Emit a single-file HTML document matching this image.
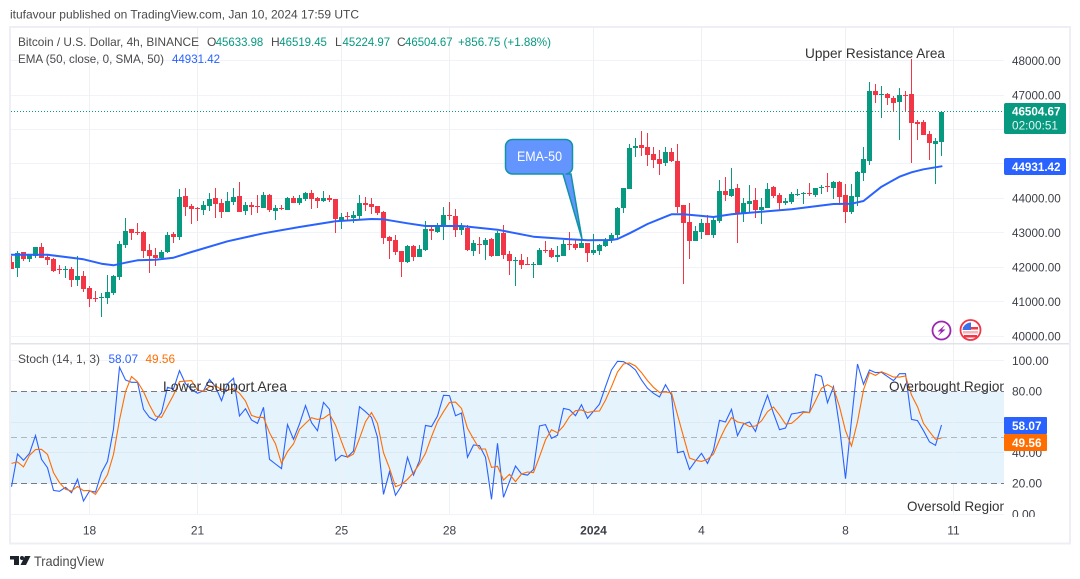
<!DOCTYPE html>
<html lang="en">
<head>
<meta charset="utf-8">
<title>BTCUSD 4h chart</title>
<style>
html,body{margin:0;padding:0;background:#fff;}
svg{display:block;font-family:"Liberation Sans",sans-serif;}
</style>
</head>
<body>
<svg id="chart" xmlns="http://www.w3.org/2000/svg" width="1080" height="579" viewBox="0 0 1080 579">
  <defs>
    <clipPath id="main-clip"><rect x="11" y="28" width="993" height="315"/></clipPath>
    <clipPath id="stoch-clip"><rect x="11" y="345" width="993" height="172"/></clipPath>
    <clipPath id="axis-clip"><rect x="1004" y="345" width="66" height="172"/></clipPath>
  </defs>
  <rect x="0" y="0" width="1080" height="579" fill="#ffffff"/>
  <text x="10" y="18.5" font-size="12" fill="#4a4a4a" textLength="349" lengthAdjust="spacingAndGlyphs">itufavour published on TradingView.com, Jan 10, 2024 17:59 UTC</text>
  <rect x="10" y="27" width="1060" height="516.5" fill="#ffffff" stroke="#eeeff4" stroke-width="2"/>
  <rect x="11" y="391.3" width="993" height="92" fill="#e5f3fd"/>
  <g id="grid"></g>
  <rect x="11" y="343" width="1058" height="1.5" fill="#e0e3eb"/>
  <g id="stoch-levels" clip-path="url(#stoch-clip)">
    <line x1="11" x2="1004" y1="391.5" y2="391.5" stroke="#787b86" stroke-dasharray="6 4"/>
    <line x1="11" x2="1004" y1="437.5" y2="437.5" stroke="#b2b5be" stroke-dasharray="6 4"/>
    <line x1="11" x2="1004" y1="483.5" y2="483.5" stroke="#787b86" stroke-dasharray="6 4"/>
  </g>
  <g id="candles" clip-path="url(#main-clip)"></g>
  <polyline id="ema-line" fill="none" stroke="#2962ff" stroke-width="2" stroke-linejoin="round" stroke-linecap="round" clip-path="url(#main-clip)"/>
  <line id="last-price-line" x1="11" x2="1004" y1="111.5" y2="111.5" stroke="#089981" stroke-dasharray="1 2"/>
  <polyline id="stoch-k-line" fill="none" stroke="#2962ff" stroke-width="1.1" clip-path="url(#stoch-clip)"/>
  <polyline id="stoch-d-line" fill="none" stroke="#ff6d00" stroke-width="1.1" clip-path="url(#stoch-clip)"/>

  <g>
    <path d="M512.5 139.5H565.5a7 7 0 0 1 7 7V167a7 7 0 0 1-7 7H571L582 239L563 174H512.5a7 7 0 0 1-7-7V146.5a7 7 0 0 1 7-7Z" fill="#6495ff" stroke="#0f93a8" stroke-width="1.5"/>
    <text x="517" y="161" font-size="14" fill="#ffffff" textLength="45" lengthAdjust="spacingAndGlyphs">EMA-50</text>
  </g>

  <text x="805" y="58" font-size="14" fill="#333333" textLength="140" lengthAdjust="spacingAndGlyphs">Upper Resistance Area</text>
  <g clip-path="url(#stoch-clip)">
    <text x="163" y="391" font-size="14" fill="#333333" textLength="124" lengthAdjust="spacingAndGlyphs">Lower Support Area</text>
    <text x="889" y="391" font-size="14" fill="#333333" textLength="118" lengthAdjust="spacingAndGlyphs">Overbought Region</text>
    <text x="907" y="511" font-size="14" fill="#333333" textLength="100" lengthAdjust="spacingAndGlyphs">Oversold Region</text>
  </g>

  <g font-size="12">
    <text x="18" y="46" fill="#4a4a4a" textLength="181" lengthAdjust="spacingAndGlyphs">Bitcoin / U.S. Dollar, 4h, BINANCE</text>
    <text x="207" y="46" fill="#4a4a4a">O</text>
    <text x="215.7" y="46" fill="#089981" textLength="47.6" lengthAdjust="spacingAndGlyphs">45633.98</text>
    <text x="271" y="46" fill="#4a4a4a">H</text>
    <text x="279.3" y="46" fill="#089981" textLength="47.6" lengthAdjust="spacingAndGlyphs">46519.45</text>
    <text x="335" y="46" fill="#4a4a4a">L</text>
    <text x="342.5" y="46" fill="#089981" textLength="47.6" lengthAdjust="spacingAndGlyphs">45224.97</text>
    <text x="397" y="46" fill="#4a4a4a">C</text>
    <text x="405" y="46" fill="#089981" textLength="47.6" lengthAdjust="spacingAndGlyphs">46504.67</text>
    <text x="458" y="46" fill="#089981" textLength="93" lengthAdjust="spacingAndGlyphs">+856.75 (+1.88%)</text>
    <text x="18" y="63" fill="#4a4a4a" textLength="146" lengthAdjust="spacingAndGlyphs">EMA (50, close, 0, SMA, 50)</text>
    <text x="172" y="63" fill="#2962ff" textLength="48" lengthAdjust="spacingAndGlyphs">44931.42</text>
    <text x="18" y="363" fill="#4a4a4a" textLength="82" lengthAdjust="spacingAndGlyphs">Stoch (14, 1, 3)</text>
    <text x="108.5" y="363" fill="#2962ff" textLength="29.5" lengthAdjust="spacingAndGlyphs">58.07</text>
    <text x="145.5" y="363" fill="#ff6d00" textLength="29.5" lengthAdjust="spacingAndGlyphs">49.56</text>
  </g>

  <g id="price-axis"></g>
  <g id="stoch-axis" clip-path="url(#axis-clip)"></g>
  <g id="time-axis"></g>

  <g>
    <rect x="1004" y="103" width="62" height="31" rx="2" fill="#089981"/>
    <text x="1012" y="115.5" font-size="12" font-weight="bold" fill="#ffffff" textLength="48.5" lengthAdjust="spacingAndGlyphs">46504.67</text>
    <text x="1012" y="129.5" font-size="12" fill="#e4f5f0" textLength="46" lengthAdjust="spacingAndGlyphs">02:00:51</text>
  </g>
  <g>
    <rect x="1004" y="158" width="62" height="17" rx="2" fill="#2962ff"/>
    <text x="1012" y="171" font-size="12" font-weight="bold" fill="#ffffff" textLength="48.5" lengthAdjust="spacingAndGlyphs">44931.42</text>
  </g>
  <g>
    <rect x="1004" y="417" width="43" height="17" rx="1" fill="#2962ff"/>
    <text x="1012" y="430" font-size="12" font-weight="bold" fill="#ffffff" textLength="29.5" lengthAdjust="spacingAndGlyphs">58.07</text>
  </g>
  <g>
    <rect x="1004" y="434" width="43" height="17" rx="1" fill="#ff6d00"/>
    <text x="1012" y="447" font-size="12" font-weight="bold" fill="#ffffff" textLength="29.5" lengthAdjust="spacingAndGlyphs">49.56</text>
  </g>

  <g>
    <circle cx="941.5" cy="330.5" r="9" fill="#ffffff" stroke="#9c27b0" stroke-width="1.8"/>
    <polygon points="945,325 937.5,331.5 941,331.5 938,336 945.5,329.5 942,329.5" fill="#9c27b0"/>
  </g>
  <g>
    <circle cx="970.5" cy="330" r="10" fill="#ffffff" stroke="#f23645" stroke-width="1.8"/>
    <rect x="963" y="327" width="15" height="2.5" fill="#f23645"/>
    <rect x="963" y="331" width="15" height="2.5" fill="#f5b5bb"/>
    <rect x="964" y="335" width="13" height="2.5" fill="#f23645"/>
    <path d="M971 322.5V330H962.5A8.5 8.5 0 0 1 971 322.5Z" fill="#3d6fe8"/>
  </g>

  <g>
    <path d="M10 556H19V565H14V559.5H10ZM25 556H30.5L26 565H20.5Z" fill="#1e222d"/>
    <circle cx="22" cy="558" r="2" fill="#1e222d"/>
    <text x="34" y="566" font-size="14" fill="#4a4a4a" textLength="70" lengthAdjust="spacingAndGlyphs">TradingView</text>
  </g>
</svg>
<script>
const opens = [42150,41980,42440,42240,42330,42590,42300,42240,41950,41920,
41950,41630,41750,41400,41110,41110,41110,41250,41720,42650,
43110,43020,43020,42500,42360,42270,42440,42970,42880,44070,
43780,43720,43660,43780,44010,43870,43600,43890,44070,43630,
43810,43780,43720,44100,43630,43720,43660,44010,43870,43980,
44160,44010,43920,44010,43980,43370,43490,43430,43490,43870,
43840,43780,43600,42880,42790,42470,42150,42620,42300,42500,
43110,43020,43200,43520,43490,43080,43140,42470,42680,42650,
42820,42330,42990,42390,42180,42210,42100,42070,42070,42500,
42500,42300,42330,42680,42680,42560,42700,42410,42470,42620,
42790,42940,43720,44270,45460,45550,45490,45290,45140,45030,
45350,45090,43810,43310,42760,43020,43280,42940,43340,44210,
44070,44300,43550,43840,43950,43660,43720,44330,44100,43870,
43890,44100,44130,44160,44100,44300,44360,44300,44480,44100,
43600,44040,44740,45090,47120,47000,47030,46910,46800,47000,
47030,46220,46220,45870,45580,45633.98];
const closes = [41950,42410,42240,42360,42590,42270,42210,41890,41920,41950,
41630,41750,41370,41080,41080,41140,41280,41750,42680,43050,
42990,42990,42470,42330,42270,42440,42940,42880,44040,43750,
43690,43690,43810,43980,43840,43600,43920,44040,43600,43810,
43750,43750,44100,43660,43720,43690,44010,43870,44010,44160,
43980,43920,44010,43950,43400,43460,43460,43520,43870,43810,
43750,43580,42850,42760,42440,42150,42620,42300,42530,43110,
43050,43230,43520,43490,43080,43170,42500,42700,42650,42790,
42330,42990,42360,42180,42210,42070,42070,42100,42500,42470,
42300,42360,42680,42650,42560,42700,42410,42500,42650,42790,
42940,43720,44300,45460,45520,45460,45260,45110,45000,45350,
45090,43750,43280,42760,43050,43280,42940,43370,44210,44100,
44270,43550,43870,43920,43660,43750,44270,44070,43870,43920,
44130,44130,44160,44130,44300,44330,44330,44480,44040,43600,
44070,44770,45140,47120,47000,47030,46910,46770,47000,46970,
46190,46160,45840,45610,45660,46504.67];
const highs = [42330,42470,42440,42390,42590,42700,42360,42270,42070,42040,
42010,42330,41890,41460,41310,41250,41780,41780,42760,43430,
43110,43280,43050,42680,42560,42500,43020,43020,44270,44300,
43840,43750,43920,44160,44300,43980,44190,44300,44480,43890,
43890,44100,44190,44130,43810,43810,44040,44070,44100,44190,
44240,44040,44210,44100,43980,43580,43600,43630,44100,44040,
44010,43780,43630,42910,42940,42470,42650,42650,42650,43340,
43230,43280,43750,43890,43690,43280,43230,42790,42880,42850,
42850,43050,43230,42470,42300,42390,42300,42150,42560,42760,
42560,42620,42790,43020,42820,42820,42700,42970,42680,42850,
42990,43750,44300,45580,45750,45960,45900,45490,45400,45490,
45460,45580,43810,43870,43200,43400,43520,43460,44530,44620,
44880,44420,44010,44390,44300,44010,44450,44360,44160,44010,
44190,44270,44190,44450,44300,44390,44740,44500,44500,44420,
44420,44790,45490,47380,47320,47260,47060,46970,47200,47120,
48050,46280,46280,45960,45750,46519.45];
const lows = [41950,41720,42180,42150,42270,42270,42070,41860,41800,41690,
41430,41460,41280,40850,40990,40560,40930,41190,41630,42560,
42790,42940,42270,41830,42040,42210,42410,42700,42790,43490,
43260,43340,43520,43630,43430,43430,43600,43810,43600,43520,
43520,43580,43720,43600,43370,43660,43660,43870,43810,43920,
43690,43720,43890,43890,42990,43110,43340,43280,43370,43630,
43550,43520,42680,42240,42360,41720,42120,42180,42300,42470,
42790,42990,42790,43370,42880,42940,42470,42330,42390,42210,
42300,42330,42240,41780,41460,41950,42070,41690,42070,42410,
42270,42150,42330,42500,42500,42560,42150,42360,42360,42590,
42700,42850,43580,44270,45200,45230,44940,44880,44680,44940,
45060,43580,41510,42240,42760,42820,42940,42850,43280,43920,
44040,42700,43310,43600,43430,43260,43720,44010,43660,43810,
43840,44070,43840,44070,44040,44130,44190,43980,43810,43280,
43550,43780,44500,44970,46770,46330,46710,46540,45690,46540,
45030,45690,45840,45110,44420,45224.97];
const emaBars = [0,6,12,15,17,19,21,24,27,30,36,42,48,54,60,62,66,69,75,81,87,93,96,100,101,103,106,109,110,112,117,120,126,130,137,140,142,145,148,150,152,155];
const emaValues = [42365,42365,42231,42104,42057,42133,42203,42220,42278,42443,42754,42986,43169,43335,43401,43393,43276,43198,43198,43091,42888,42812,42783,42792,42821,42986,43256,43468,43538,43538,43459,43538,43625,43683,43837,43846,43924,44339,44629,44757,44844,44931.42];
const stochK = [17.8,39.1,35.0,39.6,51.1,35.7,30.2,15.4,14.8,17.4,
13.9,22.6,8.5,15.0,14.3,27.0,34.3,55.4,95.7,87.4,
85.9,85.9,68.3,63.0,60.9,66.1,82.6,81.5,93.5,85.0,
81.3,78.7,80.4,87.8,83.0,73.9,84.8,88.5,63.9,68.7,
61.3,59.1,69.6,35.7,32.6,29.6,58.3,48.7,58.7,70.7,
59.6,54.3,72.8,68.3,34.8,38.3,37.2,41.1,70.0,66.7,
63.0,50.0,12.8,27.6,12.2,18.3,37.0,25.4,34.8,57.8,
57.0,63.9,77.4,77.2,64.1,65.9,37.0,45.0,44.6,37.0,
9.6,46.1,10.9,21.1,31.3,26.1,25.4,29.1,57.4,58.3,
49.3,51.3,68.9,68.0,64.1,71.3,62.4,67.0,71.7,83.0,
93.9,99.6,99.3,97.2,93.9,87.4,82.0,78.7,76.3,84.3,
77.6,40.0,40.9,29.1,34.6,39.6,33.0,41.7,61.1,60.0,
68.3,51.1,58.7,60.0,53.9,66.7,77.4,65.7,55.0,56.1,
65.2,65.9,66.7,66.1,91.1,89.8,72.6,83.0,57.0,23.0,
61.3,97.8,84.6,93.9,92.2,92.4,89.6,87.0,91.5,91.5,
61.7,60.9,54.3,47.0,44.8,58.07];
const stochD = [33.0,33.9,30.7,38.3,42.0,42.2,38.9,27.0,20.4,16.1,
15.0,18.0,15.2,15.4,12.8,19.1,25.7,38.9,61.3,79.8,
89.6,86.3,79.8,71.1,63.9,63.0,70.4,77.6,86.3,86.7,
87.0,80.9,80.2,83.0,83.5,81.3,80.7,81.7,78.7,73.7,
64.3,63.0,63.0,53.0,45.7,33.0,40.7,45.7,55.2,59.1,
62.8,61.7,62.4,65.2,58.0,47.2,37.0,39.1,49.3,60.2,
66.1,59.1,40.0,29.8,17.8,19.3,22.6,27.0,32.6,39.6,
50.4,60.2,66.7,72.8,73.0,68.9,55.9,48.9,42.4,42.4,
30.4,31.1,22.2,25.9,21.1,26.1,27.4,27.0,37.4,48.3,
55.0,53.0,57.4,63.5,67.4,67.8,66.1,67.0,67.2,74.3,
83.0,92.6,97.8,98.5,96.5,92.2,87.0,82.6,79.3,79.6,
79.1,64.6,50.4,36.5,35.0,34.3,35.7,39.1,48.3,56.5,
62.8,60.0,59.3,57.0,57.4,60.7,66.7,69.8,64.6,58.7,
59.1,62.4,66.3,66.1,73.9,82.0,84.3,82.2,70.0,54.3,
44.3,60.2,80.9,92.2,90.4,92.8,91.1,89.3,89.3,90.0,
77.6,70.0,59.1,53.7,48.7,49.56];
const priceTicks = [48000,47000,46000,45000,44000,43000,42000,41000,40000];
const stochTicks = [100,80,60,40,20,0];
const timeTickBars = [13,31,55,73,97,115,139,157];
const timeTickLabels = ['18','21','25','28','2024','4','8','11'];

const SVG_NS = 'http://www.w3.org/2000/svg';
const xOf = function (bar) { return 11.5 + 6 * bar; };
const yPrice = function (p) { return 60.6 + (48000 - p) * 0.03445; };
const yStoch = function (v) { return 514 - v * 1.5333; };
const crisp = function (y) { return Math.floor(y) + 0.5; };

const gridGroup = document.getElementById('grid');
priceTicks.forEach(function (tick) {
  const line = document.createElementNS(SVG_NS, 'line');
  
  
  line.setAttribute('x1', 11);
  line.setAttribute('x2', 1004);
  line.setAttribute('y1', crisp(yPrice(tick)));
  line.setAttribute('y2', crisp(yPrice(tick)));
  line.setAttribute('stroke', '#f0f3fa');
  gridGroup.appendChild(line);
});
stochTicks.forEach(function (tick) {
  const line = document.createElementNS(SVG_NS, 'line');
  
  
  line.setAttribute('x1', 11);
  line.setAttribute('x2', 1004);
  line.setAttribute('y1', crisp(yStoch(tick)));
  line.setAttribute('y2', crisp(yStoch(tick)));
  line.setAttribute('stroke', tick > 20 && tick < 80 ? '#dde8f0' : '#f0f3fa');
  gridGroup.appendChild(line);
});
timeTickBars.forEach(function (bar) {
  const line = document.createElementNS(SVG_NS, 'line');
  
  
  line.setAttribute('x1', Math.floor(xOf(bar)) + 0.5);
  line.setAttribute('x2', Math.floor(xOf(bar)) + 0.5);
  line.setAttribute('y1', 28);
  line.setAttribute('y2', 514);
  line.setAttribute('stroke', '#eef0f6');
  gridGroup.appendChild(line);
});

const candleGroup = document.getElementById('candles');
opens.forEach(function (open, i) {
  const color = closes[i] >= open ? '#089981' : '#f23645';
  const wickX = Math.floor(xOf(i));
  const top = Math.round(yPrice(Math.max(open, closes[i])));
  const bottom = Math.round(yPrice(Math.min(open, closes[i])));
  const wickTop = Math.round(yPrice(highs[i]));
  const wickBottom = Math.round(yPrice(lows[i]));
  const wick = document.createElementNS(SVG_NS, 'rect');
  
  
  wick.setAttribute('x', wickX);
  wick.setAttribute('y', wickTop);
  wick.setAttribute('width', 1);
  wick.setAttribute('height', Math.max(1, wickBottom - wickTop));
  wick.setAttribute('fill', color);
  candleGroup.appendChild(wick);
  const body = document.createElementNS(SVG_NS, 'rect');
  
  
  body.setAttribute('x', wickX - 2);
  body.setAttribute('y', top);
  body.setAttribute('width', 5);
  body.setAttribute('height', Math.max(1, bottom - top));
  body.setAttribute('fill', color);
  candleGroup.appendChild(body);
});

document.getElementById('ema-line').setAttribute('points', emaValues.map(function (v, k) {
  return xOf(emaBars[k]).toFixed(1) + ',' + yPrice(v).toFixed(1);
}).join(' '));
document.getElementById('stoch-k-line').setAttribute('points', stochK.map(function (v, i) {
  return xOf(i).toFixed(1) + ',' + yStoch(v).toFixed(1);
}).join(' '));
document.getElementById('stoch-d-line').setAttribute('points', stochD.map(function (v, i) {
  return xOf(i).toFixed(1) + ',' + yStoch(v).toFixed(1);
}).join(' '));

const priceAxis = document.getElementById('price-axis');
priceTicks.forEach(function (tick) {
  const label = document.createElementNS(SVG_NS, 'text');
  
  
  label.setAttribute('x', 1012);
  label.setAttribute('y', yPrice(tick) + 4.3);
  label.setAttribute('font-size', 12);
  label.setAttribute('fill', '#3c3f48');
  label.setAttribute('textLength', 48.7);
  label.setAttribute('lengthAdjust', 'spacingAndGlyphs');
  label.textContent = tick.toFixed(2);
  priceAxis.appendChild(label);
});
const stochAxis = document.getElementById('stoch-axis');
stochTicks.forEach(function (tick) {
  const label = document.createElementNS(SVG_NS, 'text');
  
  
  label.setAttribute('x', 1012);
  label.setAttribute('y', yStoch(tick) + 4.3);
  label.setAttribute('font-size', 12);
  label.setAttribute('fill', '#3c3f48');
  label.textContent = tick.toFixed(2);
  stochAxis.appendChild(label);
});
const timeAxis = document.getElementById('time-axis');
timeTickLabels.forEach(function (text, k) {
  const label = document.createElementNS(SVG_NS, 'text');
  
  
  label.setAttribute('x', xOf(timeTickBars[k]));
  label.setAttribute('y', 534.5);
  label.setAttribute('font-size', 12);
  label.setAttribute('text-anchor', 'middle');
  label.setAttribute('fill', '#3c3f48');
  if (text === '2024') { label.setAttribute('font-weight', 'bold'); }
  label.textContent = text;
  timeAxis.appendChild(label);
});
</script>
</body>
</html>
